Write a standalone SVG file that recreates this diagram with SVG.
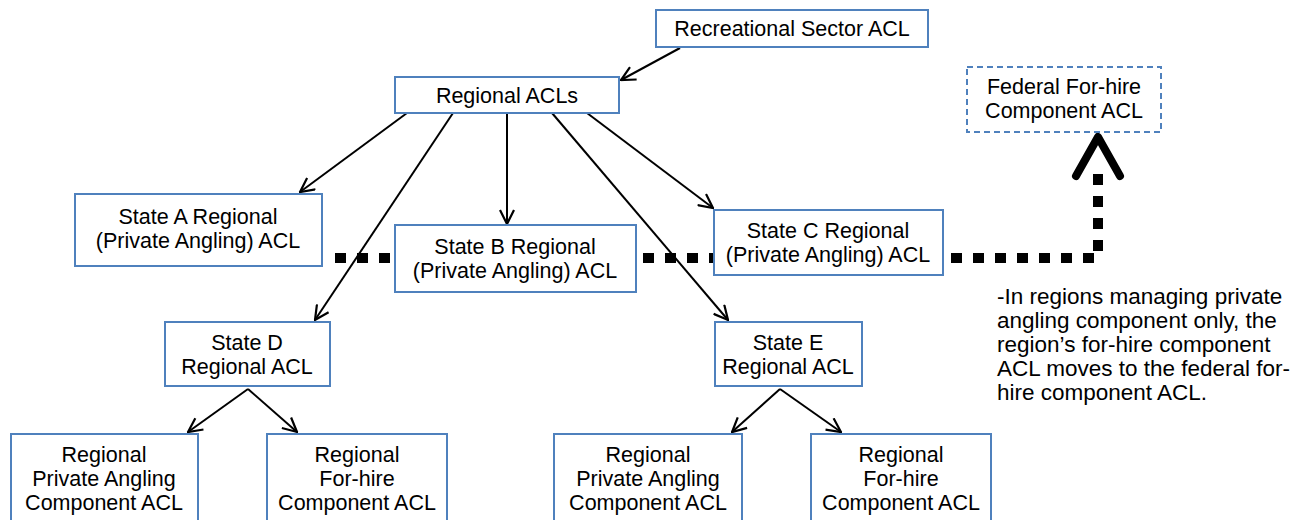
<svg xmlns="http://www.w3.org/2000/svg" width="1314" height="520" viewBox="0 0 1314 520">
<defs>
<style>
.box{fill:#fff;stroke:#4f81bd;stroke-width:2}
.dbox{fill:#fff;stroke:#4f81bd;stroke-width:2;stroke-dasharray:6 4}
text{font-family:"Liberation Sans",Arial,sans-serif;font-size:21.5px;fill:#000}
.c{text-anchor:middle}
.note{font-size:22.5px}
.ln{stroke:#000;stroke-width:2;fill:none;marker-end:url(#ah)}
</style>
<marker id="ah" viewBox="0 0 16 16" refX="15" refY="8" markerWidth="16" markerHeight="16" markerUnits="userSpaceOnUse" orient="auto">
<path d="M1,1 L15,8 L1,15" fill="none" stroke="#000" stroke-width="2.2"/>
</marker>
</defs>
<rect width="1314" height="520" fill="#fff"/>
<g id="connectors">
<path d="M335,258 H1098 V168" fill="none" stroke="#000" stroke-width="10" stroke-dasharray="11 11"/>
<polyline points="1076,176 1098,137 1120,176" fill="none" stroke="#000" stroke-width="8" stroke-linecap="round" stroke-linejoin="round"/>
<line class="ln" x1="680" y1="48" x2="621" y2="80"/>
<line class="ln" x1="407" y1="113" x2="300" y2="192"/>
<line class="ln" x1="453" y1="113" x2="315" y2="320"/>
<line class="ln" x1="507" y1="113" x2="507" y2="224"/>
<line class="ln" x1="552" y1="113" x2="728" y2="320"/>
<line class="ln" x1="587" y1="113" x2="713" y2="208"/>
<line class="ln" x1="248" y1="389" x2="188" y2="432"/>
<line class="ln" x1="248" y1="389" x2="297" y2="432"/>
<line class="ln" x1="780" y1="389" x2="732" y2="432"/>
<line class="ln" x1="780" y1="389" x2="841" y2="432"/>
</g>
<g id="recreational">
<rect class="box" x="656" y="10" width="272" height="37"/>
<text class="c" x="792" y="36">Recreational Sector ACL</text>
</g>
<g id="regional">
<rect class="box" x="395" y="77" width="224" height="36"/>
<text class="c" x="507" y="103">Regional ACLs</text>
</g>
<g id="federal">
<rect class="dbox" x="967" y="67" width="194" height="65"/>
<text class="c" x="1064" y="94">Federal For-hire</text>
<text class="c" x="1064" y="118">Component ACL</text>
</g>
<g id="stateA">
<rect class="box" x="75" y="194" width="247" height="72"/>
<text class="c" x="198" y="224">State A Regional</text>
<text class="c" x="198" y="248">(Private Angling) ACL</text>
</g>
<g id="stateB">
<rect class="box" x="395" y="225" width="241" height="67"/>
<text class="c" x="515" y="254">State B Regional</text>
<text class="c" x="515" y="278">(Private Angling) ACL</text>
</g>
<g id="stateC">
<rect class="box" x="714" y="210" width="229" height="65"/>
<text class="c" x="828" y="238">State C Regional</text>
<text class="c" x="828" y="262">(Private Angling) ACL</text>
</g>
<g id="stateD">
<rect class="box" x="165" y="322" width="165" height="64"/>
<text class="c" x="247" y="350">State D</text>
<text class="c" x="247" y="374">Regional ACL</text>
</g>
<g id="stateE">
<rect class="box" x="715" y="322" width="147" height="64"/>
<text class="c" x="788" y="350">State E</text>
<text class="c" x="788" y="374">Regional ACL</text>
</g>
<g id="dPrivate">
<rect class="box" x="11" y="434" width="187" height="100"/>
<text class="c" x="104" y="462">Regional</text>
<text class="c" x="104" y="486">Private Angling</text>
<text class="c" x="104" y="510">Component ACL</text>
</g>
<g id="dForhire">
<rect class="box" x="267" y="434" width="180" height="100"/>
<text class="c" x="357" y="462">Regional</text>
<text class="c" x="357" y="486">For-hire</text>
<text class="c" x="357" y="510">Component ACL</text>
</g>
<g id="ePrivate">
<rect class="box" x="554" y="434" width="188" height="100"/>
<text class="c" x="648" y="462">Regional</text>
<text class="c" x="648" y="486">Private Angling</text>
<text class="c" x="648" y="510">Component ACL</text>
</g>
<g id="eForhire">
<rect class="box" x="811" y="434" width="180" height="100"/>
<text class="c" x="901" y="462">Regional</text>
<text class="c" x="901" y="486">For-hire</text>
<text class="c" x="901" y="510">Component ACL</text>
</g>
<g id="note">
<text class="note" x="997" y="304">-In regions managing private</text>
<text class="note" x="997" y="328">angling component only, the</text>
<text class="note" x="997" y="352">region’s for-hire component</text>
<text class="note" x="997" y="376">ACL moves to the federal for-</text>
<text class="note" x="997" y="400">hire component ACL.</text>
</g>
</svg>
